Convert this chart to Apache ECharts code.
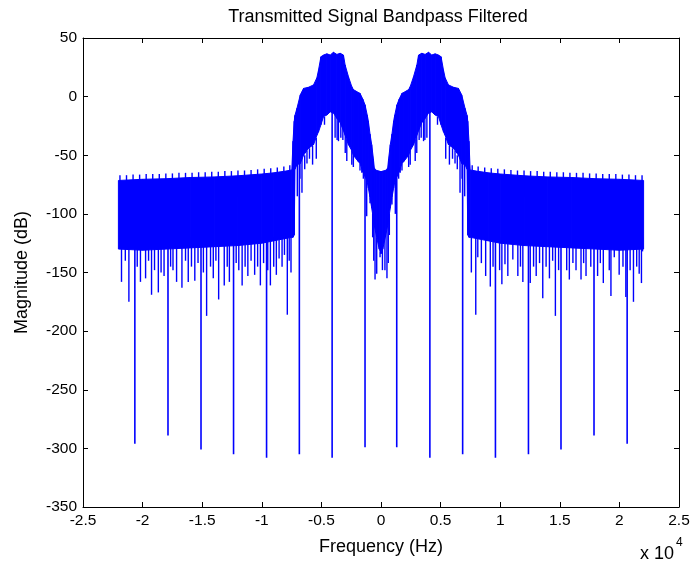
<!DOCTYPE html>
<html><head><meta charset="utf-8">
<script src="https://cdn.jsdelivr.net/npm/echarts@6/dist/echarts.min.js"></script>
<style>html,body{margin:0;padding:0;background:#fff}#c{width:694px;height:569px}</style>
</head><body><div id="c"></div>
<script>
// Frequencies in units of 10^4 Hz (axis multiplier shown as "x 10^4")
const xTicks = [-2.5, -2, -1.5, -1, -0.5, 0, 0.5, 1, 1.5, 2, 2.5];
const yTicks = [-350, -300, -250, -200, -150, -100, -50, 0, 50];

// Envelope of the solid part of the dense spectrum band (upper / lower edge, dB)
const bandFreq = [-2.203, -2.0, -1.8, -1.6, -1.4, -1.2, -1.0, -0.9, -0.8, -0.748, -0.738, -0.728, -0.722, -0.705, -0.677, -0.65, -0.608, -0.566, -0.538, -0.524, -0.504, -0.482, -0.454, -0.426, -0.399, -0.37, -0.343, -0.315, -0.301, -0.273, -0.245, -0.232, -0.19, -0.176, -0.153, -0.134, -0.115, -0.106, -0.092, -0.078, -0.064, -0.056, -0.036, -0.015, 0,
  0.015, 0.036, 0.056, 0.064, 0.078, 0.092, 0.106, 0.115, 0.134, 0.153, 0.176, 0.19, 0.232, 0.245, 0.273, 0.301, 0.315, 0.343, 0.37, 0.399, 0.426, 0.454, 0.482, 0.504, 0.524, 0.538, 0.566, 0.608, 0.65, 0.677, 0.705, 0.722, 0.728, 0.738, 0.748, 0.8, 0.9, 1.0, 1.2, 1.4, 1.6, 1.8, 2.0, 2.203];
const bandTop = [-71.5, -70.5, -70, -69, -68.5, -67.5, -66, -65, -63.5, -62.5, -38, -21, -16, -10, 1.5, 7, 8, 10, 16, 22.7, 34, 35.5, 36.5, 35.5, 37.8, 36, 37, 35.5, 27, 17, 8.5, 6, 3.5, 2.8, -2, -7, -16, -21, -32, -41, -53, -61, -63, -63.5, -64,
  -63.5, -63, -61, -53, -41, -32, -21, -16, -7, -2, 2.8, 3.5, 6, 8.5, 17, 27, 35.5, 37, 36, 37.8, 35.5, 36.5, 35.5, 34, 22.7, 16, 10, 8, 7, 1.5, -10, -16, -21, -38, -62.5, -63.5, -65, -66, -67.5, -68.5, -69, -70, -70.5, -71.5];
const bandBottom = [-130, -131, -130, -129, -128, -127, -125, -123, -121, -120, -120, -118, -62, -58, -57, -50, -44, -41, -33, -30, -24, -17, -15.7, -13, -14, -18.5, -22, -29, -33, -41, -46, -50, -55.5, -57, -64, -68, -73, -78, -86, -95, -104, -110, -120, -130, -134,
  -130, -120, -110, -104, -95, -86, -78, -73, -68, -64, -57, -55.5, -50, -46, -41, -33, -29, -22, -18.5, -14, -13, -15.7, -17, -24, -30, -33, -41, -44, -50, -57, -58, -62, -118, -120, -120, -121, -123, -125, -127, -128, -129, -130, -131, -130];

// Small teeth rising above the band top in the outer regions (freq, peak dB)
const teethBase = -85;
const teethFreq = [-2.19, -2.135, -2.08, -2.025, -1.97, -1.915, -1.86, -1.805, -1.75, -1.695, -1.64, -1.585, -1.53, -1.475, -1.42, -1.365, -1.31, -1.255, -1.2, -1.145, -1.09, -1.035, -0.98, -0.925, -0.87, -0.815, -0.765,
  0.765, 0.815, 0.87, 0.925, 0.98, 1.035, 1.09, 1.145, 1.2, 1.255, 1.31, 1.365, 1.42, 1.475, 1.53, 1.585, 1.64, 1.695, 1.75, 1.805, 1.86, 1.915, 1.97, 2.025, 2.08, 2.135, 2.19];
const teethTop = [-67, -67, -66.5, -66.5, -66, -66, -66, -65.5, -65.5, -65, -65, -65, -64.5, -64.5, -64, -64, -63.5, -63.5, -63, -63, -62.5, -62, -61.5, -61, -60.5, -59.5, -58.5,
  -58.5, -59.5, -60.5, -61, -61.5, -62, -62.5, -63, -63, -63.5, -63.5, -64, -64, -64.5, -64.5, -65, -65, -65, -65.5, -65.5, -66, -66, -66, -66.5, -66.5, -67, -67];

// Short drop lines hanging below the band in the outer regions (freq, lowest dB)
const combStart = -120;
const combFreq = [-2.177, -2.145, -2.115, -2.045, -2.018, -1.975, -1.95, -1.925, -1.9, -1.868, -1.845, -1.82, -1.765, -1.745, -1.715, -1.67, -1.64, -1.617, -1.59, -1.562, -1.535, -1.49, -1.463, -1.43, -1.407, -1.385, -1.362, -1.315, -1.29, -1.272, -1.215, -1.193, -1.165, -1.14, -1.117, -1.09, -1.06, -1.035, -1.012, -0.985, -0.95, -0.928, -0.9, -0.878, -0.855, -0.83, -0.81, -0.786, -0.77, -0.755,
  0.758, 0.795, 0.812, 0.842, 0.878, 0.917, 0.94, 0.995, 1.014, 1.04, 1.064, 1.106, 1.148, 1.17, 1.19, 1.252, 1.28, 1.302, 1.33, 1.357, 1.385, 1.413, 1.44, 1.463, 1.49, 1.558, 1.58, 1.61, 1.636, 1.678, 1.7, 1.72, 1.76, 1.817, 1.84, 1.865, 1.915, 1.929, 1.957, 1.998, 2.03, 2.054, 2.09, 2.118, 2.145, 2.166, 2.185, 2.194];
const combDepth = [-158, -140, -175, -145, -158, -155, -140, -169, -148, -167, -150, -153, -145, -148, -158, -163, -140, -158, -145, -157, -142, -150, -187, -145, -155, -140, -173, -161, -145, -158, -142, -148, -161, -145, -153, -140, -152, -145, -161, -142, -148, -161, -145, -152, -138, -145, -135, -186, -140, -150,
  -150, -186, -137, -142, -153, -162, -145, -148, -160, -143, -153, -139, -153, -145, -158, -159, -145, -153, -142, -172, -145, -155, -140, -187, -148, -148, -156, -142, -148, -156, -142, -153, -145, -153, -142, -159, -148, -170, -137, -152, -145, -171, -148, -175, -145, -151, -159, -132];

// Lines hanging from the inner edge of the lobes (freq, from dB, to dB)
const fringeFreq = [-0.702, -0.68, -0.663, -0.64, -0.621, -0.6, -0.574, -0.543, -0.474, -0.385, -0.368, -0.357, -0.337, -0.32, -0.3, -0.287, -0.245, -0.232, -0.176, -0.161, -0.148, -0.12, -0.092, -0.07, -0.061, -0.05, -0.036, -0.008,
  0.012, 0.033, 0.05, 0.061, 0.07, 0.092, 0.12, 0.148, 0.161, 0.176, 0.232, 0.245, 0.287, 0.3, 0.32, 0.337, 0.357, 0.368, 0.385, 0.474, 0.543, 0.574, 0.6, 0.621, 0.64, 0.663, 0.68, 0.702];
const fringeFrom = [-58, -56, -52, -50, -46, -44, -42, -35, -17, -15, -18, -19, -23, -14, -33, -37, -46, -50, -57, -60, -63, -70, -86, -100, -104, -110, -120, -132,
  -130, -120, -110, -104, -100, -86, -70, -63, -60, -57, -50, -46, -37, -33, -14, -23, -19, -18, -15, -17, -35, -42, -44, -46, -50, -52, -56, -58];
const fringeTo = [-85, -70, -82, -62, -57, -53, -58, -53, -24, -35, -37, -38, -35, -37, -48, -55, -58, -60, -63, -65, -70, -102, -91, -120, -140, -156, -151, -137,
  -148, -148, -155, -142, -118, -92, -100, -70, -65, -63, -60, -58, -55, -48, -37, -35, -38, -37, -35, -24, -53, -58, -53, -57, -62, -82, -70, -85];

// Deep nulls reaching about -300 dB (freq, from dB, to dB)
const nullFreq = [-2.065, -1.787, -1.51, -1.237, -0.96, -0.685, -0.41, -0.134, 0.132, 0.41, 0.685, 0.96, 1.237, 1.51, 1.787, 2.065];
const nullFrom = [-120, -120, -120, -120, -120, -57, -13, -67, -67, -13, -57, -120, -120, -120, -120, -120];
const nullTo = [-296, -289, -301, -305, -308, -305, -308, -299, -299, -308, -305, -308, -305, -301, -289, -296];

const FONT = "'Liberation Sans', Arial, Helvetica, sans-serif";
const BLUE = '#0000ff';
const INK = '#000000';

const segItems = [];
teethFreq.forEach((f, i) => segItems.push([f, teethBase, teethTop[i], 1.4]));
combFreq.forEach((f, i) => segItems.push([f, combStart, combDepth[i], 1.4]));
fringeFreq.forEach((f, i) => segItems.push([f, fringeFrom[i], fringeTo[i], 1.4]));
nullFreq.forEach((f, i) => segItems.push([f, nullFrom[i], nullTo[i], 1.6]));

const chart = echarts.init(document.getElementById('c'), null, {renderer: 'canvas'});

function axisCommon(extra) {
  return Object.assign({
    type: 'value',
    axisLine: {show: true, onZero: false, lineStyle: {color: INK, width: 1}},
    axisTick: {show: true, inside: true, length: 5, lineStyle: {color: INK, width: 1}},
    splitLine: {show: false},
    axisLabel: {show: false}
  }, extra);
}

chart.setOption({
  animation: false,
  backgroundColor: '#fff',
  graphic: [
    {type: 'text', x: 378, y: 8, style: {text: 'Transmitted Signal Bandpass Filtered', align: 'center', fontFamily: FONT, fontSize: 18, fill: INK}},
    {type: 'text', left: 640, top: 545, style: {text: 'x 10', fontFamily: FONT, fontSize: 18, fill: INK}},
    {type: 'text', left: 676, top: 537, style: {text: '4', fontFamily: FONT, fontSize: 12, fill: INK}}
  ],
  grid: {left: 83, right: 15, top: 38, bottom: 62, containLabel: false, outerBoundsMode: 'none'},
  xAxis: [
    axisCommon({
      position: 'bottom', min: xTicks[0], max: xTicks[xTicks.length - 1], interval: 0.5,
      axisLabel: {show: true, color: INK, fontFamily: FONT, fontSize: 15.5, margin: 6, showMinLabel: true, showMaxLabel: true},
      name: 'Frequency (Hz)', nameLocation: 'middle', nameGap: 31,
      nameTextStyle: {fontFamily: FONT, fontSize: 18, color: INK}
    }),
    axisCommon({position: 'top', min: xTicks[0], max: xTicks[xTicks.length - 1], interval: 0.5})
  ],
  yAxis: [
    axisCommon({
      position: 'left', min: yTicks[0], max: yTicks[yTicks.length - 1], interval: 50,
      axisLabel: {show: true, color: INK, fontFamily: FONT, fontSize: 15.5, margin: 6, showMinLabel: true, showMaxLabel: true},
      name: 'Magnitude (dB)', nameLocation: 'middle', nameGap: 52,
      nameTextStyle: {fontFamily: FONT, fontSize: 18, color: INK}
    }),
    axisCommon({position: 'right', min: yTicks[0], max: yTicks[yTicks.length - 1], interval: 50})
  ],
  series: [
    {
      type: 'custom', coordinateSystem: 'cartesian2d', silent: true, clip: true,
      data: bandFreq.map((f, i) => [f, bandTop[i], bandBottom[i]]),
      encode: {x: 0, y: [1, 2]},
      renderItem: function (params, api) {
        const i = params.dataIndex;
        if (i >= bandFreq.length - 1) return {type: 'group', children: []};
        const pts = [
          api.coord([bandFreq[i], bandTop[i]]),
          api.coord([bandFreq[i + 1], bandTop[i + 1]]),
          api.coord([bandFreq[i + 1], bandBottom[i + 1]]),
          api.coord([bandFreq[i], bandBottom[i]])
        ];
        return {type: 'polygon', shape: {points: pts}, style: {fill: BLUE, stroke: BLUE, lineWidth: 1}};
      }
    },
    {
      type: 'custom', coordinateSystem: 'cartesian2d', silent: true, clip: true,
      data: segItems,
      encode: {x: 0, y: [1, 2]},
      renderItem: function (params, api) {
        const a = api.coord([api.value(0), api.value(1)]);
        const b = api.coord([api.value(0), api.value(2)]);
        return {type: 'line', shape: {x1: a[0], y1: a[1], x2: b[0], y2: b[1]}, style: {stroke: BLUE, lineWidth: api.value(3)}};
      }
    }
  ]
});
</script></body></html>
